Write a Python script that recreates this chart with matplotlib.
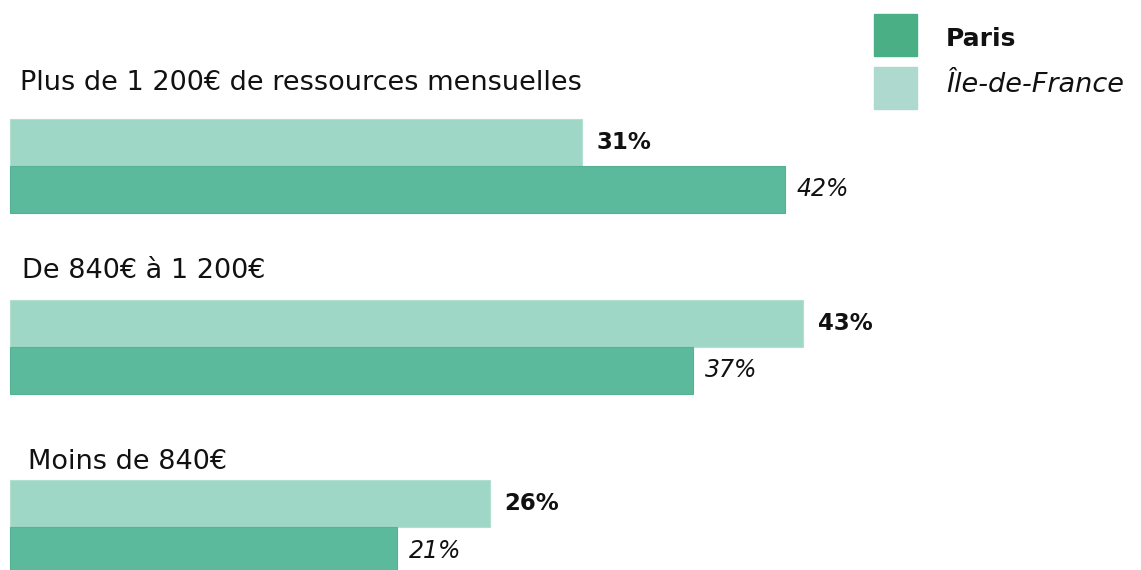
import matplotlib
matplotlib.use("Agg")
import matplotlib.pyplot as plt
from matplotlib.patches import Rectangle

plt.rcParams['font.family'] = ['DejaVu Sans']

categories = ["Plus de 1 200€ de ressources mensuelles",
              "De 840€ à 1 200€",
              "Moins de 840€"]
idf_values = [31, 43, 26]     # light bars, bold labels
paris_values = [42, 37, 21]   # dark bars, italic labels

series_names = ["Paris", "Île-de-France"]

dark = "#5cba9c"
light = "#9fd7c6"
legend_dark = "#4aaf85"
legend_light = "#aed9cf"

W, H = 1141, 570
fig = plt.figure(figsize=(W / 100, H / 100), dpi=100)
ax = fig.add_axes([0, 0, 1, 1])

# scale: ~18.45 px per percent, bars start at x=10px; 180.5px between groups
px_per_pct = 18.45
group_px = 180.5
ax.set_xlim(-10 / px_per_pct, (W - 10) / px_per_pct)
ax.set_ylim((H - 166) / group_px, -166 / group_px)
ax.axis("off")

bh = 47 / group_px
ys = list(range(len(categories)))
ax.barh([y - bh / 2 for y in ys], idf_values, height=bh, color=light,
        edgecolor="#b3dfd1", linewidth=0.8)
ax.barh([y + bh / 2 for y in ys], paris_values, height=bh, color=dark,
        edgecolor="#55b294", linewidth=0.8)

pad = 0.8
for y, v in zip(ys, idf_values):
    ax.text(v + pad, y - bh / 2, f"{v}%", va="center", ha="left",
            fontsize=16.5, fontweight="bold", color="#111111")
for y, v in zip(ys, paris_values):
    ax.text(v + pad * 0.8, y + bh / 2, f"{v}%", va="center", ha="left",
            fontsize=17, fontstyle="italic", color="#111111")

# category labels above each pair
label_dx = [10, 12, 18]        # px offsets from bar start
label_dy = [-83, -75, -65]     # px offsets from group center
for y, c, dx, dy in zip(ys, categories, label_dx, label_dy):
    ax.text(dx / px_per_pct, y + dy / group_px, c,
            va="center", ha="left", fontsize=19.5, color="#111111")

# legend
def fx(px):
    return px / W

def fy(px):
    return 1 - px / H

fig.patches.append(Rectangle((fx(874), fy(56)), fx(43), 42 / H,
                             transform=fig.transFigure, color=legend_dark))
fig.patches.append(Rectangle((fx(874), fy(109)), fx(43), 42 / H,
                             transform=fig.transFigure, color=legend_light))
fig.text(fx(946), fy(39), series_names[0], va="center", ha="left",
         fontsize=18, fontweight="bold", color="#111111")
fig.text(fx(946), fy(85), series_names[1], va="center", ha="left",
         fontsize=19.5, fontstyle="italic", color="#111111")

fig.savefig("out.png", dpi=100)
